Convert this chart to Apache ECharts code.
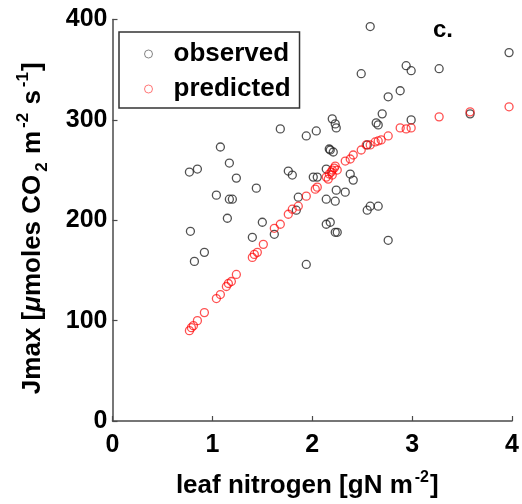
<!DOCTYPE html>
<html>
<head>
<meta charset="utf-8">
<script src="https://cdn.jsdelivr.net/npm/echarts@6/dist/echarts.min.js"></script>
<style>html,body{margin:0;padding:0;background:#fff;}#c{width:522px;height:504px;}</style>
</head>
<body>
<div id="c"></div>
<script>
// observed Jmax vs leaf nitrogen
var obsN = [2.58,3.97,2.49,2.94,2.99,3.27,2.88,2.76,2.70,2.99,3.58,2.64,2.66,2.20,2.23,2.24,1.68,1.94,2.04,1.08,2.17,2.18,2.21,1.17,0.77,0.85,1.24,1.76,1.80,2.01,2.05,2.14,2.38,2.41,1.44,1.04,1.17,1.20,1.86,2.24,2.33,2.14,2.23,1.15,1.84,2.58,2.55,2.66,1.50,2.14,2.18,2.23,2.25,0.78,1.40,1.62,2.76,0.92,0.82,1.94,2.55];
var obsJ = [393,367,346,354,349,351,329,323,306,300,306,297,295,301,296,292,291,284,289,273,271,270,268,257,248,251,242,249,245,243,243,251,246,240,232,225,221,221,223,230,228,221,219,202,210,214,210,214,198,196,198,188,188,189,183,186,180,168,159,156,275];
// predicted Jmax vs leaf nitrogen
var predN = [0.77,0.79,0.81,0.85,0.92,1.04,1.08,1.14,1.16,1.19,1.24,1.40,1.42,1.45,1.51,1.62,1.68,1.76,1.80,1.86,1.94,2.03,2.05,2.14,2.16,2.17,2.19,2.20,2.20,2.22,2.23,2.25,2.33,2.38,2.41,2.49,2.54,2.58,2.63,2.66,2.69,2.76,2.88,2.94,2.99,3.27,3.58,3.97];
var predJ = [90,93,95,100,108,122,126,134,137,139,146,163,166,168,176,192,196,206,211,214,224,231,233,243,241,246,248,245,250,252,254,250,259,261,265,270,275,275,278,279,280,284,292,291,292,303,308,313];
var xTicks = [0,1,2,3,4];
var yTicks = [0,100,200,300,400];
var seriesNames = ['observed','predicted'];

function pairs(xs, ys){ var o=[]; for(var i=0;i<xs.length;i++) o.push([xs[i], ys[i]]); return o; }

var FF = '"Liberation Sans", Arial, Helvetica, sans-serif';
var chart = echarts.init(document.getElementById('c'), null, {renderer:'canvas'});
var axisCol = '#4a4a4a';
chart.setOption({
  animation: false,
  backgroundColor: '#fff',
  grid: {left: 112.5, right: 7, top: 19.5, bottom: 74.5, containLabel: false},
  xAxis: {
    type: 'value', min: xTicks[0], max: xTicks[xTicks.length-1], interval: 1,
    axisLine: {show: true, onZero: false, lineStyle: {color: axisCol, width: 1.5}},
    axisTick: {show: true, inside: true, length: 5, lineStyle: {color: axisCol, width: 1.2}},
    splitLine: {show: false},
    axisLabel: {margin: 12, color: '#000', fontFamily: FF, fontWeight: 'bold', fontSize: 25,
      formatter: function(v){ return xTicks.indexOf(v) >= 0 ? String(v) : ''; }},
    name: '{t|leaf nitrogen [gN m}{sup|-2}{t|]}',
    nameLocation: 'middle', nameGap: 49,
    nameTextStyle: {color: '#000', fontFamily: FF, fontWeight: 'bold', fontSize: 26, padding: [0, 10, 0, 0],
      rich: {
        t: {fontFamily: FF, fontWeight: 'bold', fontSize: 26, color: '#000', lineHeight: 32, verticalAlign: 'middle'},
        sup: {fontFamily: FF, fontWeight: 'bold', fontSize: 16, color: '#000', lineHeight: 32, verticalAlign: 'top', padding: [0, 1, 0, 2]}
      }}
  },
  yAxis: {
    type: 'value', min: yTicks[0], max: yTicks[yTicks.length-1], interval: 100,
    axisLine: {show: true, onZero: false, lineStyle: {color: axisCol, width: 1.5}},
    axisTick: {show: true, inside: true, length: 5, lineStyle: {color: axisCol, width: 1.2}},
    splitLine: {show: false},
    axisLabel: {margin: 5, color: '#000', fontFamily: FF, fontWeight: 'bold', fontSize: 25,
      formatter: function(v){ return yTicks.indexOf(v) >= 0 ? String(v) : ''; }},
    name: '{t|Jmax [}{mu|\u03bc}{t|moles CO}{sub|2}{t| m}{sup|-2}{t| s}{sup|-1}{t|]}',
    nameLocation: 'middle', nameGap: 62, nameRotate: 90,
    nameTextStyle: {color: '#000', fontFamily: FF, fontWeight: 'bold', fontSize: 26, padding: [0, 16, 0, 0],
      rich: {
        t: {fontFamily: FF, fontWeight: 'bold', fontSize: 26, color: '#000', lineHeight: 36, verticalAlign: 'middle'},
        mu: {fontFamily: FF, fontWeight: 'bold', fontStyle: 'italic', fontSize: 26, color: '#000', lineHeight: 36, verticalAlign: 'middle'},
        sup: {fontFamily: FF, fontWeight: 'bold', fontSize: 17, color: '#000', lineHeight: 36, verticalAlign: 'top', padding: [0, 1, 0, 3]},
        sub: {fontFamily: FF, fontWeight: 'bold', fontSize: 17, color: '#000', lineHeight: 36, verticalAlign: 'bottom', padding: [0, 1, 0, 3]}
      }}
  },
  legend: {
    show: true, orient: 'vertical', left: 119, top: 32,
    backgroundColor: '#fff', borderColor: '#333', borderWidth: 1.5, borderRadius: 0,
    padding: [7, 9, 4, 25], itemGap: 5, itemWidth: 8, itemHeight: 8,
    textStyle: {fontFamily: FF, fontWeight: 'bold', fontSize: 26, color: '#000', lineHeight: 30, padding: [0, 0, 0, 16]},
    data: [
      {name: seriesNames[0], icon: 'circle', itemStyle: {color: 'rgba(0,0,0,0)', borderColor: '#666', borderWidth: 1}},
      {name: seriesNames[1], icon: 'circle', itemStyle: {color: 'rgba(0,0,0,0)', borderColor: '#ff5555', borderWidth: 1}}
    ]
  },
  graphic: [{type: 'text', left: 433, top: 18, z: 10,
    style: {text: 'c.', fontFamily: FF, fontWeight: 'bold', fontSize: 24, fill: '#000'}}],
  series: [
    {name: seriesNames[0], type: 'scatter', symbol: 'circle', symbolSize: 8, z: 2,
     itemStyle: {color: 'rgba(0,0,0,0)', borderColor: '#262626', borderWidth: 1.3},
     emphasis: {disabled: true}, data: pairs(obsN, obsJ)},
    {name: seriesNames[1], type: 'scatter', symbol: 'circle', symbolSize: 8, z: 3,
     itemStyle: {color: 'rgba(0,0,0,0)', borderColor: 'rgba(255,0,0,0.85)', borderWidth: 1.3},
     emphasis: {disabled: true}, data: pairs(predN, predJ)}
  ]
});
</script>
</body>
</html>
